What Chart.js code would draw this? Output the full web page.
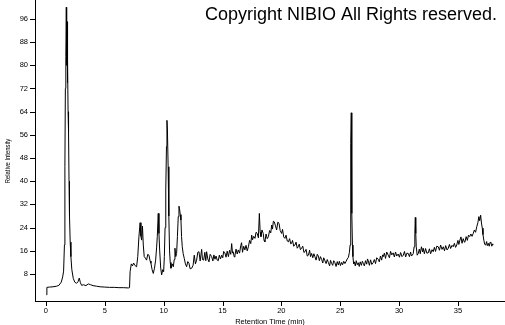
<!DOCTYPE html>
<html lang="en">
<head>
  <meta charset="UTF-8" />
  <title>Chromatogram</title>
  <script src="https://cdn.jsdelivr.net/npm/chart.js"></script>
  <style>
    * {
      margin: 0;
      padding: 0;
      box-sizing: border-box;
    }

    body {
      background: #fff;
      overflow: hidden;
    }

    .chart-box {
      position: relative;
      width: 505px;
      height: 325px;
    }
  </style>
</head>
<body>

  <div class="chart-box">
    <canvas id="chromChart"></canvas>
  </div>

  <script>
    // Retention time (min) and relative intensity
    const retentionTime = [
      0.05, 0.08, 0.3, 0.6, 0.9, 1.1, 1.3, 1.42, 1.5, 1.57,
      1.61, 1.65, 1.69, 1.73, 1.76, 1.79, 1.82, 1.85, 1.88, 1.92,
      1.96, 2.0, 2.06, 2.12, 2.2, 2.32, 2.45, 2.6, 2.72, 2.83,
      2.93, 3.03, 3.2, 3.4, 3.6, 3.8, 4.0, 4.3, 4.6, 5.0,
      5.4, 5.8, 6.2, 6.6, 7.0, 7.1, 7.15, 7.25, 7.35, 7.45,
      7.55, 7.7, 7.8, 7.9, 8.0, 8.07, 8.13, 8.2, 8.27, 8.35,
      8.45, 8.55, 8.65, 8.75, 8.85, 8.92, 9.02, 9.12, 9.22, 9.32,
      9.4, 9.46, 9.54, 9.6, 9.66, 9.75, 9.83, 9.92, 10.0, 10.06,
      10.12, 10.18, 10.24, 10.28, 10.32, 10.38, 10.44, 10.5, 10.56, 10.62,
      10.72, 10.82, 10.9, 10.96, 11.03, 11.1, 11.17, 11.24, 11.3, 11.35,
      11.41, 11.47, 11.52, 11.58, 11.66, 11.75, 11.85, 11.95, 12.05, 12.15,
      12.25, 12.38, 12.5, 12.6, 12.7, 12.8, 12.9, 13.0, 13.1, 13.23,
      13.3, 13.4, 13.5, 13.58, 13.65, 13.75, 13.85, 13.95, 14.08, 14.18,
      14.27, 14.36, 14.45, 14.55, 14.64, 14.73, 14.83, 14.93, 15.02, 15.1,
      15.2, 15.3, 15.4, 15.5, 15.6, 15.7, 15.78, 15.85, 15.9, 16.0,
      16.06, 16.15, 16.25, 16.34, 16.45, 16.55, 16.62, 16.7, 16.8, 16.9,
      17.0, 17.1, 17.2, 17.3, 17.4, 17.48, 17.55, 17.65, 17.76, 17.85,
      17.95, 18.05, 18.13, 18.2, 18.27, 18.35, 18.46, 18.53, 18.6, 18.7,
      18.8, 18.9, 19.0, 19.1, 19.18, 19.25, 19.32, 19.4, 19.5, 19.6,
      19.7, 19.8, 19.9, 20.02, 20.1, 20.2, 20.3, 20.4, 20.5, 20.6,
      20.7, 20.8, 20.87, 20.95, 21.05, 21.15, 21.25, 21.35, 21.43, 21.52,
      21.62, 21.72, 21.82, 21.92, 22.0, 22.1, 22.2, 22.3, 22.4, 22.48,
      22.57, 22.67, 22.76, 22.85, 22.95, 23.05, 23.14, 23.23, 23.32, 23.42,
      23.52, 23.6, 23.7, 23.8, 23.9, 24.0, 24.1, 24.18, 24.27, 24.36,
      24.45, 24.55, 24.65, 24.75, 24.84, 24.93, 25.02, 25.12, 25.2, 25.3,
      25.4, 25.5, 25.6, 25.7, 25.78, 25.84, 25.88, 25.91, 25.94, 25.97,
      26.0, 26.04, 26.08, 26.14, 26.2, 26.28, 26.36, 26.45, 26.53, 26.62,
      26.7, 26.8, 26.88, 26.96, 27.05, 27.15, 27.25, 27.32, 27.38, 27.48,
      27.58, 27.68, 27.8, 27.9, 28.0, 28.1, 28.23, 28.32, 28.42, 28.52,
      28.6, 28.66, 28.75, 28.85, 28.95, 29.08, 29.18, 29.28, 29.38, 29.5,
      29.6, 29.7, 29.8, 29.93, 30.03, 30.13, 30.25, 30.36, 30.46, 30.56,
      30.66, 30.78, 30.88, 30.98, 31.05, 31.12, 31.2, 31.28, 31.34, 31.38,
      31.42, 31.46, 31.54, 31.63, 31.72, 31.8, 31.9, 32.0, 32.05, 32.15,
      32.25, 32.36, 32.48, 32.58, 32.68, 32.8, 32.9, 33.0, 33.1, 33.2,
      33.33, 33.43, 33.53, 33.65, 33.76, 33.86, 33.96, 34.08, 34.18, 34.28,
      34.38, 34.5, 34.6, 34.7, 34.8, 34.9, 35.0, 35.08, 35.17, 35.26,
      35.35, 35.45, 35.55, 35.6, 35.7, 35.8, 35.9, 36.0, 36.1, 36.2,
      36.3, 36.4, 36.5, 36.6, 36.7, 36.78, 36.85, 36.93, 37.0, 37.07,
      37.13, 37.2, 37.28, 37.36, 37.44, 37.5, 37.58, 37.66, 37.74, 37.8,
      37.88, 37.95, 38.0
    ];

    const intensity = [
      0.8, 3.4, 3.5, 3.6, 3.8, 4.1, 5.2, 7.0, 9.0, 18,
      45, 72, 83, 100, 80, 95, 74, 82, 64, 57,
      40, 28, 19, 14, 9.5, 6.5, 5.2, 4.8, 5.3, 6.6,
      5.0, 4.1, 4.3, 4.0, 4.6, 4.3, 4.0, 3.8, 3.6, 3.5,
      3.4, 3.4, 3.3, 3.3, 3.2, 3.3, 8.8, 11.5, 10.8, 11.8,
      11.0, 10.5, 14, 20.9, 25.7, 21, 19.7, 24.5, 18, 14,
      13.5, 12.8, 14.8, 14.5, 12.5, 11.7, 9.5, 8.2, 10, 12.8,
      17, 20.9, 28.9, 22, 16.3, 10, 7.7, 9.5, 8.8, 14,
      24, 37, 52, 61, 58, 45, 28, 16, 12, 10,
      11.5, 10.5, 13, 16.9, 14, 15.1, 21, 27.8, 31.4, 30.5,
      28.5, 26.6, 21, 17.4, 15.0, 13.4, 11.5, 10.5, 12.3, 11.7,
      9.8, 10.0, 11.0, 14.5, 11.5, 12.8, 15.5, 15.7, 12.5, 16.5,
      13, 12.8, 15.5, 12.6, 15.7, 13.2, 12.2, 14.8, 14, 12.5,
      14.6, 13.1, 14.2, 12.8, 12.6, 14.5, 13.2, 14.5, 13.6, 15.8,
      15.3, 13.8, 15.9, 14, 16.2, 14.8, 18.5, 15.2, 15.7, 13.9,
      14.5, 16.6, 14.9, 16.3, 15.2, 17.8, 18.8, 15.5, 17.6, 16.3,
      17.9, 16.0, 17.4, 19.6, 18.5, 21.4, 19.8, 21.0, 20.3, 22.4,
      22.0, 20.5, 28.9, 22.5, 20.9, 23.2, 22.0, 19.6, 19.1, 21.8,
      20.2, 20.9, 23.0, 22.2, 24.9, 23.5, 26.2, 26.0, 24.6, 23.2,
      25.9, 25.5, 23.0, 22.0, 23.4, 20.8, 20.3, 21.4, 19.4, 19.1,
      20.2, 18.4, 18.6, 19.6, 17.6, 18.0, 19.0, 16.9, 17.4, 18.3,
      16.4, 16.9, 17.6, 15.4, 15.7, 16.5, 14.2, 14.5, 16.2, 14.0,
      15.1, 13.6, 15.0, 14.0, 12.8, 14.8, 14.2, 12.6, 14.0, 13.1,
      11.8, 13.6, 12.6, 11.6, 13.0, 11.9, 10.8, 12.7, 11.7, 11.0,
      12.6, 11.9, 10.6, 12.3, 11.1, 12.4, 10.9, 12.0, 11.2, 12.4,
      11.6, 12.4, 13.2, 13.8, 15.5, 18, 33, 53, 63.6, 45,
      28.9, 18, 14, 11.5, 12.2, 10.8, 12.6, 11.2, 11.9, 10.6,
      12.2, 11.0, 12.4, 11.7, 10.8, 12.6, 11.4, 13.2, 12.6, 11.0,
      12.9, 11.3, 11.9, 13.0, 11.6, 13.6, 13.1, 12.2, 14.2, 12.8,
      14.6, 14.0, 15.2, 13.4, 15.6, 14.5, 13.6, 15.8, 14.6, 15.3,
      13.9, 15.6, 14.2, 14.9, 13.8, 15.4, 14.0, 14.5, 15.8, 13.9,
      15.2, 15.1, 14.0, 15.6, 14.2, 14.5, 15.0, 17.4, 22, 27.5,
      22, 17.4, 14.5, 15.1, 16.6, 15.0, 17.4, 15.6, 16.9, 15.0,
      16.8, 15.2, 15.3, 16.7, 15.0, 16.4, 15.7, 17.2, 15.8, 17.6,
      17.4, 16.2, 18.0, 16.5, 17.4, 16.0, 17.8, 16.3, 16.9, 18.2,
      16.8, 17.9, 17.4, 18.6, 17.2, 18.0, 19.6, 18.2, 19.7, 20.8,
      18.6, 20.2, 19.0, 19.1, 20.9, 19.6, 21.4, 20.9, 21.8, 21.0,
      22.0, 23.2, 22.4, 24.3, 25.8, 27.8, 26.4, 28.3, 25.6, 23.8,
      21.6, 19.7, 18.2, 18.0, 19.2, 17.8, 18.6, 17.6, 19.0, 18.8,
      17.6, 18.4, 18.0
    ];

    // labelled ticks
    const xLabelTicks = [0, 5, 10, 15, 20, 25, 30, 35];
    const yLabelTicks = [8, 16, 24, 32, 40, 48, 56, 64, 72, 80, 88, 96];

    if (retentionTime.length !== intensity.length) {
      throw new Error('length mismatch ' + retentionTime.length + ' / ' + intensity.length);
    }

    const FONT = '"Liberation Sans", Arial, sans-serif';

    // tick marks (long on labelled ticks), axis titles and the copyright line
    const decorations = {
      id: 'decorations',
      afterDraw(chart) {
        const ctx = chart.ctx;
        const area = chart.chartArea;
        const xs = chart.scales.x;
        const ys = chart.scales.y;

        ctx.save();
        ctx.strokeStyle = '#000';
        ctx.lineWidth = 1;
        ctx.beginPath();
        xs.ticks.forEach(t => {
          const px = Math.round(xs.getPixelForValue(t.value)) + 0.5;
          const len = xLabelTicks.includes(t.value) ? 5 : 3;
          ctx.moveTo(px, area.bottom);
          ctx.lineTo(px, area.bottom + len);
        });
        ys.ticks.forEach(t => {
          const py = Math.round(ys.getPixelForValue(t.value)) + 0.5;
          const len = (yLabelTicks.includes(t.value) || t.value === 0) ? 5 : 3;
          ctx.moveTo(area.left, py);
          ctx.lineTo(area.left - len, py);
        });
        ctx.stroke();

        ctx.fillStyle = '#000';
        ctx.textAlign = 'center';
        ctx.textBaseline = 'middle';
        ctx.font = '7.5px ' + FONT;
        ctx.fillText('Retention Time (min)', (area.left + area.right) / 2, 321.5);

        ctx.save();
        ctx.translate(7.5, 161);
        ctx.rotate(-Math.PI / 2);
        ctx.scale(0.78, 1);
        ctx.fillText('Relative Intensity', 0, 0);
        ctx.restore();

        ctx.font = '18px ' + FONT;
        ctx.textAlign = 'right';
        ctx.textBaseline = 'alphabetic';
        ctx.fillText('Copyright NIBIO All Rights reserved.', 497, 20);
        ctx.restore();
      }
    };

    // keep the plot area flush with the canvas edges
    function fitX(s) {
      s.height = 24;
      s.paddingLeft = 0;
      s.paddingRight = 0;
    }

    function fitY(s) {
      s.width = 35;
      s.paddingTop = 0;
      s.paddingBottom = 0;
    }

    const ctx = document.getElementById('chromChart').getContext('2d');

    new Chart(ctx, {
      type: 'line',
      data: {
        datasets: [{
          data: retentionTime.map((t, i) => ({ x: t, y: intensity[i] })),
          borderColor: '#000',
          borderWidth: 1,
          pointRadius: 0,
          tension: 0,
          fill: false
        }]
      },
      options: {
        responsive: true,
        maintainAspectRatio: false,
        animation: false,
        layout: { padding: 0 },
        plugins: {
          legend: { display: false },
          tooltip: { enabled: false }
        },
        scales: {
          x: {
            type: 'linear',
            min: -0.93,
            max: 39,
            afterFit: fitX,
            grid: { display: false, drawTicks: false },
            border: { color: '#000', width: 1 },
            ticks: {
              stepSize: 1,
              includeBounds: false,
              autoSkip: false,
              maxRotation: 0,
              padding: 5,
              color: '#000',
              font: { family: FONT, size: 7.5 },
              callback: v => xLabelTicks.includes(v) ? String(v) : null
            }
          },
          y: {
            min: -1.3,
            max: 102.5,
            afterFit: fitY,
            grid: { display: false, drawTicks: false },
            border: { color: '#000', width: 1 },
            ticks: {
              stepSize: 2,
              includeBounds: false,
              autoSkip: false,
              padding: 7,
              color: '#000',
              font: { family: FONT, size: 7.5 },
              callback: v => yLabelTicks.includes(v) ? String(v) : null
            }
          }
        }
      },
      plugins: [decorations]
    });
  </script>
</body>
</html>
